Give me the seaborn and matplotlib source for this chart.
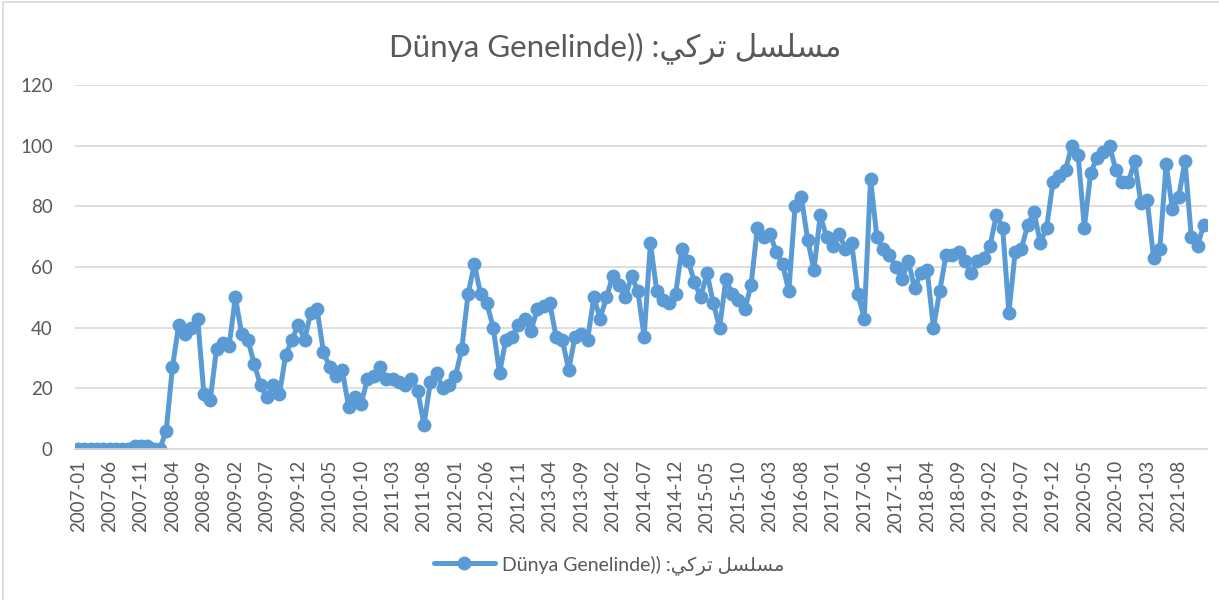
"""Monthly search interest line chart (Excel-style) recreated with seaborn."""

import matplotlib
matplotlib.use("Agg")
import matplotlib.pyplot as plt
from matplotlib.patches import Rectangle
import numpy as np
import pandas as pd
import seaborn as sns

# Data (monthly, 2007-01 .. 2021-12)
start_month = "2007-01"
values = [
    0, 0, 0, 0, 0, 0, 0, 0, 0, 1, 1, 1, 0, 0, 6, 27, 41, 38, 40, 43,
    18, 16, 33, 35, 34, 50, 38, 36, 28, 21, 17, 21, 18, 31, 36, 41, 36, 45, 46, 32,
    27, 24, 26, 14, 17, 15, 23, 24, 27, 23, 23, 22, 21, 23, 19, 8, 22, 25, 20, 21,
    24, 33, 51, 61, 51, 48, 40, 25, 36, 37, 41, 43, 39, 46, 47, 48, 37, 36, 26, 37,
    38, 36, 50, 43, 50, 57, 54, 50, 57, 52, 37, 68, 52, 49, 48, 51, 66, 62, 55, 50,
    58, 48, 40, 56, 51, 49, 46, 54, 73, 70, 71, 65, 61, 52, 80, 83, 69, 59, 77, 70,
    67, 71, 66, 68, 51, 43, 89, 70, 66, 64, 60, 56, 62, 53, 58, 59, 40, 52, 64, 64,
    65, 62, 58, 62, 63, 67, 77, 73, 45, 65, 66, 74, 78, 68, 73, 88, 90, 92, 100, 97,
    73, 91, 96, 98, 100, 92, 88, 88, 95, 81, 82, 63, 66, 94, 79, 83, 95, 70, 67, 74,
]
months = [str(p) for p in pd.period_range(start_month, periods=len(values), freq="M")]
y_ticks = [0, 20, 40, 60, 80, 100, 120]
label_step = 5

# Arabic part written in visual order with presentation forms (matplotlib does no shaping)
arabic_visual = "\uFEF2\uFEDB\uFEAE\uFE97 \uFEDE\uFEB4\uFEE0\uFEB4\uFEE3"
series_name = "Dünya Genelinde)) :" + arabic_visual

LINE_COLOR = "#5B9BD5"
TEXT_COLOR = "#595959"
GRID_COLOR = "#D9D9D9"

sns.set_theme(style="white")
plt.rcParams["font.family"] = ["Lato", "DejaVu Sans"]

df = pd.DataFrame({"month": months, "value": values})

fig = plt.figure(figsize=(12.19, 6.0), dpi=100)
ax = fig.add_axes([75 / 1219, 1 - 449 / 600, (1207 - 75) / 1219, (449 - 85) / 600])

sns.lineplot(
    data=df, x="month", y="value", sort=False, ax=ax,
    color=LINE_COLOR, linewidth=3.6, marker="o", markersize=10,
    markeredgewidth=0, label=series_name, legend=False,
)

ax.set_xlim(-0.5, len(values) - 0.5)
ax.set_ylim(y_ticks[0], y_ticks[-1])
ax.set_yticks(y_ticks)
ax.set_xticks(range(0, len(months), label_step))
ax.set_xticklabels(months[::label_step], rotation=90)
ax.set_xlabel("")
ax.set_ylabel("")

ax.grid(axis="y", color=GRID_COLOR, linewidth=1.2)
ax.set_axisbelow(True)
for side in ["left", "right", "top"]:
    ax.spines[side].set_visible(False)
ax.spines["bottom"].set_color(GRID_COLOR)
ax.spines["bottom"].set_linewidth(1.2)
ax.tick_params(axis="both", length=0, labelsize=13.5, colors=TEXT_COLOR)
ax.tick_params(axis="y", pad=16)
ax.tick_params(axis="x", pad=8)

fig.text(0.505, 1 - 48 / 600, series_name, ha="center", va="center",
         fontsize=22.5, color=TEXT_COLOR)

handles, labels = ax.get_legend_handles_labels()
fig.legend(handles, labels, loc="center", bbox_to_anchor=(0.5, 1 - 565 / 600),
           frameon=False, handlelength=3.1, handletextpad=0.4,
           fontsize=14, labelcolor=TEXT_COLOR)

# thin chart border like the Excel chart area
fig.patches.append(Rectangle((3 / 1219, -0.02), 1.02, 1 - 2 / 600 + 0.02,
                             transform=fig.transFigure, fill=False,
                             edgecolor=GRID_COLOR, linewidth=1.2))

fig.savefig("out.png", dpi=100)
